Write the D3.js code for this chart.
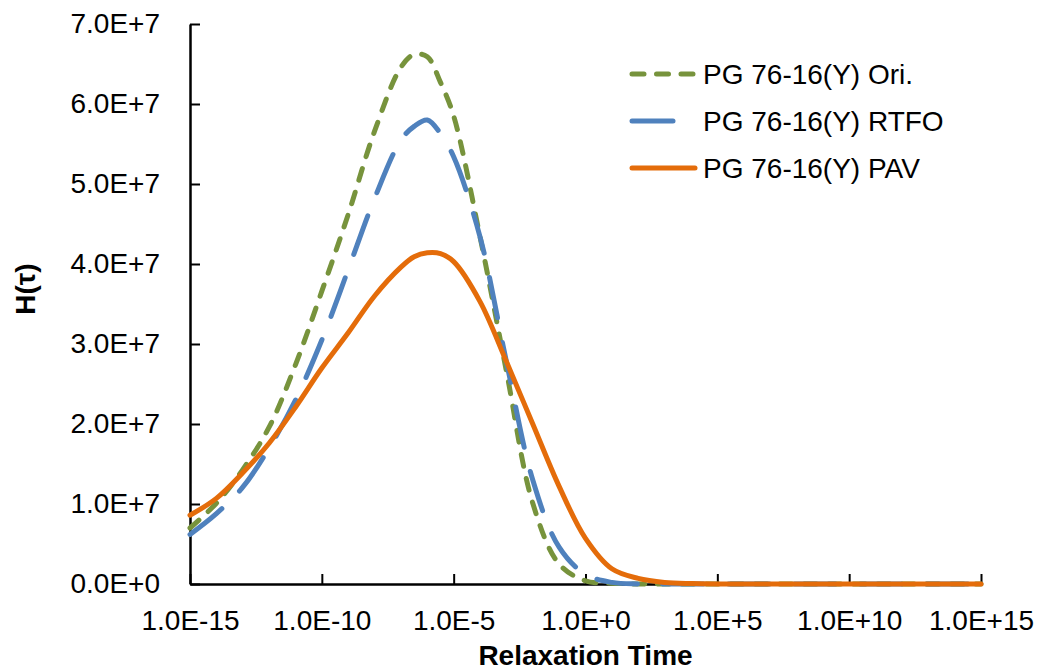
<!DOCTYPE html>
<html>
<head>
<meta charset="utf-8">
<script src="https://cdn.jsdelivr.net/npm/d3@7"></script>
<style>
  body { margin: 0; background: #fff; }
  text { font-family: "Liberation Sans", Arial, sans-serif; }
</style>
</head>
<body>
<div class="container"></div>
<script>
// Data
const logTau = [-15, -14, -13, -12, -11, -10, -9, -8, -7, -6.5, -6, -5.5, -5, -4, -3, -2, -1, 0, 1, 2, 3, 4, 5, 6, 8, 10, 12, 15];
const oriH  = [0.70e7, 1.01e7, 1.43e7, 1.96e7, 2.74e7, 3.66e7, 4.62e7, 5.66e7, 6.46e7, 6.62e7, 6.59e7, 6.27e7, 5.85e7, 4.34e7, 2.66e7, 1.01e7, 0.25e7, 0.04e7, 0.01e7, 0, 0, 0, 0, 0, 0, 0, 0, 0];
const rtfoH = [0.62e7, 0.88e7, 1.21e7, 1.70e7, 2.30e7, 3.05e7, 3.93e7, 4.82e7, 5.55e7, 5.72e7, 5.80e7, 5.63e7, 5.34e7, 4.34e7, 2.78e7, 1.30e7, 0.46e7, 0.12e7, 0.02e7, 0, 0, 0, 0, 0, 0, 0, 0, 0];
const pavH  = [0.86e7, 1.07e7, 1.39e7, 1.76e7, 2.21e7, 2.70e7, 3.14e7, 3.60e7, 3.96e7, 4.09e7, 4.14e7, 4.13e7, 4.03e7, 3.53e7, 2.78e7, 2.00e7, 1.22e7, 0.57e7, 0.19e7, 0.07e7, 0.02e7, 0.005e7, 0, 0, 0, 0, 0, 0];
const seriesNames = ["PG 76-16(Y) Ori.", "PG 76-16(Y) RTFO", "PG 76-16(Y) PAV"];
const xTicks = [1e-15, 1e-10, 1e-5, 1e0, 1e5, 1e10, 1e15];
const xTickLabels = ["1.0E-15", "1.0E-10", "1.0E-5", "1.0E+0", "1.0E+5", "1.0E+10", "1.0E+15"];
const yTicks = [0, 1e7, 2e7, 3e7, 4e7, 5e7, 6e7, 7e7];
const yTickLabels = ["0.0E+0", "1.0E+7", "2.0E+7", "3.0E+7", "4.0E+7", "5.0E+7", "6.0E+7", "7.0E+7"];

// Dimensions
const w = 1039;
const h = 672;
const padL = 190, padR = 981, padT = 24, padB = 584;

const colors = ["#77933C", "#4F81BD", "#E46C0A"];
const dashes = ["12,12.5", "41,25", null];

// Scales
const xScale = d3.scaleLog().domain([1e-15, 1e15]).range([padL, padR]);
const yScale = d3.scaleLinear().domain([0, 7e7]).range([padB, padT]);

const svg = d3.select(".container")
  .append("svg")
  .attr("width", w)
  .attr("height", h);

// Axes
const xAxis = d3.axisBottom(xScale)
  .tickValues(xTicks)
  .tickFormat((d, i) => xTickLabels[i])
  .tickSizeInner(-10)
  .tickSizeOuter(0)
  .tickPadding(26);
const gx = svg.append("g")
  .attr("transform", `translate(0,${padB})`)
  .call(xAxis);

const yAxis = d3.axisLeft(yScale)
  .tickValues(yTicks)
  .tickFormat((d, i) => yTickLabels[i])
  .tickSizeInner(-10)
  .tickSizeOuter(0)
  .tickPadding(30);
const gy = svg.append("g")
  .attr("transform", `translate(${padL},0)`)
  .call(yAxis);

[gx, gy].forEach(g => {
  g.select(".domain").attr("stroke", "#000").attr("stroke-width", 2.5);
  g.selectAll(".tick line").attr("stroke", "#000").attr("stroke-width", 2);
  g.selectAll(".tick text")
    .attr("fill", "#000")
    .style("font-size", "28px")
    .style("font-family", "'Liberation Sans', Arial, sans-serif");
});

// Lines
const series = [oriH, rtfoH, pavH];
const line = d3.line()
  .x((d, i) => xScale(Math.pow(10, logTau[i])))
  .y(d => yScale(Math.max(0, d)))
  .curve(d3.curveCatmullRom.alpha(0.5));

series.forEach((vals, k) => {
  svg.append("path")
    .datum(vals)
    .attr("d", line)
    .attr("fill", "none")
    .attr("stroke", colors[k])
    .attr("stroke-width", 5)
    .attr("stroke-linecap", "round")
    .attr("stroke-dasharray", dashes[k]);
});

// Legend
const legend = svg.append("g");
seriesNames.forEach((name, k) => {
  const yy = 74 + k * 47;
  legend.append("line")
    .attr("x1", 632).attr("x2", 695)
    .attr("y1", yy).attr("y2", yy)
    .attr("stroke", colors[k])
    .attr("stroke-width", 5)
    .attr("stroke-linecap", "round")
    .attr("stroke-dasharray", dashes[k]);
  legend.append("text")
    .attr("x", 703)
    .attr("y", yy + 10)
    .style("font-size", "28px")
    .text(name);
});

// Axis titles
svg.append("text")
  .attr("x", (padL + padR) / 2)
  .attr("y", 665)
  .style("text-anchor", "middle")
  .style("font-size", "28px")
  .style("font-weight", "bold")
  .text("Relaxation Time");

svg.append("text")
  .attr("transform", "translate(35,289) rotate(-90)")
  .style("text-anchor", "middle")
  .style("font-size", "28px")
  .style("font-weight", "bold")
  .text("H(τ)");
</script>
</body>
</html>
